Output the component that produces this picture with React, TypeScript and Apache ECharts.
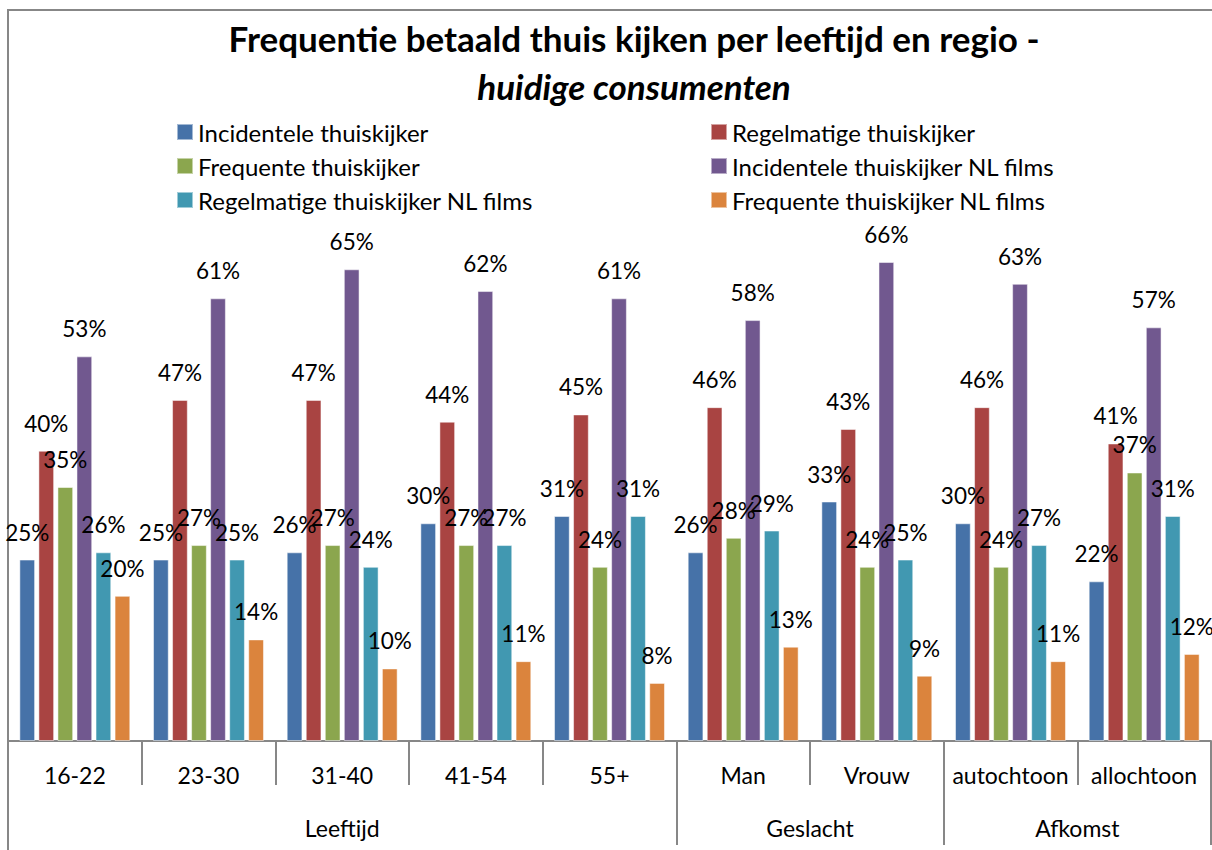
import React, { useEffect, useRef } from "react";
import * as echarts from "echarts";

const categories = ["16-22", "23-30", "31-40", "41-54", "55+", "Man", "Vrouw", "autochtoon", "allochtoon"];
const groupLabels = ["Leeftijd", "Geslacht", "Afkomst"];
const seriesNames = [
  "Incidentele thuiskijker",
  "Regelmatige thuiskijker",
  "Frequente thuiskijker",
  "Incidentele thuiskijker NL films",
  "Regelmatige thuiskijker NL films",
  "Frequente thuiskijker NL films",
];
const incidenteel = [25, 25, 26, 30, 31, 26, 33, 30, 22];
const regelmatig = [40, 47, 47, 44, 45, 46, 43, 46, 41];
const frequent = [35, 27, 27, 27, 24, 28, 24, 24, 37];
const incidenteelNL = [53, 61, 65, 62, 61, 58, 66, 63, 57];
const regelmatigNL = [26, 25, 24, 27, 31, 29, 25, 27, 31];
const frequentNL = [20, 14, 10, 11, 8, 13, 9, 11, 12];
const seriesValues = [incidenteel, regelmatig, frequent, incidenteelNL, regelmatigNL, frequentNL];
const colors = ["#4672A8", "#A94442", "#8BA64E", "#71588F", "#4198B1", "#DB843D"];

const FONT = "Lato";

export default function App() {
  const ref = useRef<HTMLDivElement>(null);
  useEffect(() => {
    if (!ref.current) return;
    const chart = echarts.init(ref.current, undefined, { renderer: "svg" });
    // group axis: 19 points (half-category units), labels at group centres
    const groupAxisData: string[] = [];
    for (let i = 0; i <= 18; i++) groupAxisData.push("");
    groupAxisData[5] = groupLabels[0];
    groupAxisData[12] = groupLabels[1];
    groupAxisData[16] = groupLabels[2];
    const groupTickIdx = [0, 10, 14, 18];
    const groupLabelIdx = [5, 12, 16];

    const legendCommon = {
      orient: "vertical",
      top: 120,
      padding: 0,
      itemWidth: 16,
      itemHeight: 16,
      itemGap: 10,
      icon: "rect",
      textStyle: { fontFamily: FONT, fontSize: 24, color: "#000" },
    };

    chart.setOption({
      animation: false,
      color: colors,
      title: {
        text: "Frequentie betaald thuis kijken per leeftijd en regio -",
        subtext: "huidige consumenten",
        left: 634,
        top: 20,
        padding: 0,
        textAlign: "center",
        itemGap: 13,
        textStyle: { fontFamily: FONT, fontWeight: "bold", fontSize: 35, color: "#000" },
        subtextStyle: { fontFamily: FONT, fontWeight: "bold", fontStyle: "italic", fontSize: 35, color: "#000" },
      },
      legend: [
        { ...legendCommon, left: 176, data: [seriesNames[0], seriesNames[2], seriesNames[4]] },
        { ...legendCommon, left: 710, data: [seriesNames[1], seriesNames[3], seriesNames[5]] },
      ],
      grid: { left: 8, right: 1, top: 233, bottom: 109, containLabel: false },
      xAxis: [
        {
          type: "category",
          data: categories,
          position: "bottom",
          axisLine: { show: true, lineStyle: { color: "#878787", width: 2 } },
          axisTick: { show: true, length: 44, interval: 0, lineStyle: { color: "#878787", width: 2 } },
          axisLabel: { interval: 0, margin: 22, fontFamily: FONT, fontSize: 23, color: "#000" },
        },
        {
          type: "category",
          data: groupAxisData,
          position: "bottom",
          offset: 44,
          boundaryGap: false,
          axisLine: { show: false },
          axisTick: {
            show: true,
            length: 60,
            interval: (idx: number) => groupTickIdx.includes(idx),
            lineStyle: { color: "#878787", width: 2 },
          },
          axisLabel: {
            interval: (idx: number) => groupLabelIdx.includes(idx),
            margin: 31,
            fontFamily: FONT,
            fontSize: 23,
            color: "#000",
          },
        },
      ],
      yAxis: {
        type: "value",
        min: 0,
        max: 70,
        axisLine: { show: true, lineStyle: { color: "#878787", width: 2 } },
        axisTick: { show: false },
        axisLabel: { show: false },
        splitLine: { show: false },
      },
      graphic: [
        {
          type: "rect",
          shape: { x: 8, y: 10, width: 1400, height: 1000 },
          style: { fill: "none", stroke: "#878787", lineWidth: 2 },
          silent: true,
          z: -10,
        },
      ],
      series: seriesNames.map((name, i) => ({
        name,
        type: "bar",
        xAxisIndex: 0,
        data: seriesValues[i],
        barCategoryGap: "17%",
        barGap: "21%",
        itemStyle: { color: colors[i], borderColor: "rgba(255,255,255,0.5)", borderWidth: 1 },
        label: {
          show: true,
          position: "top",
          distance: 16,
          formatter: "{c}%",
          fontFamily: FONT,
          fontSize: 22.5,
          color: "#000",
        },
      })),
    });
    return () => chart.dispose();
  }, []);
  return <div ref={ref} style={{ position: "absolute", left: 0, top: 0, width: 1212, height: 850 }} />;
}
